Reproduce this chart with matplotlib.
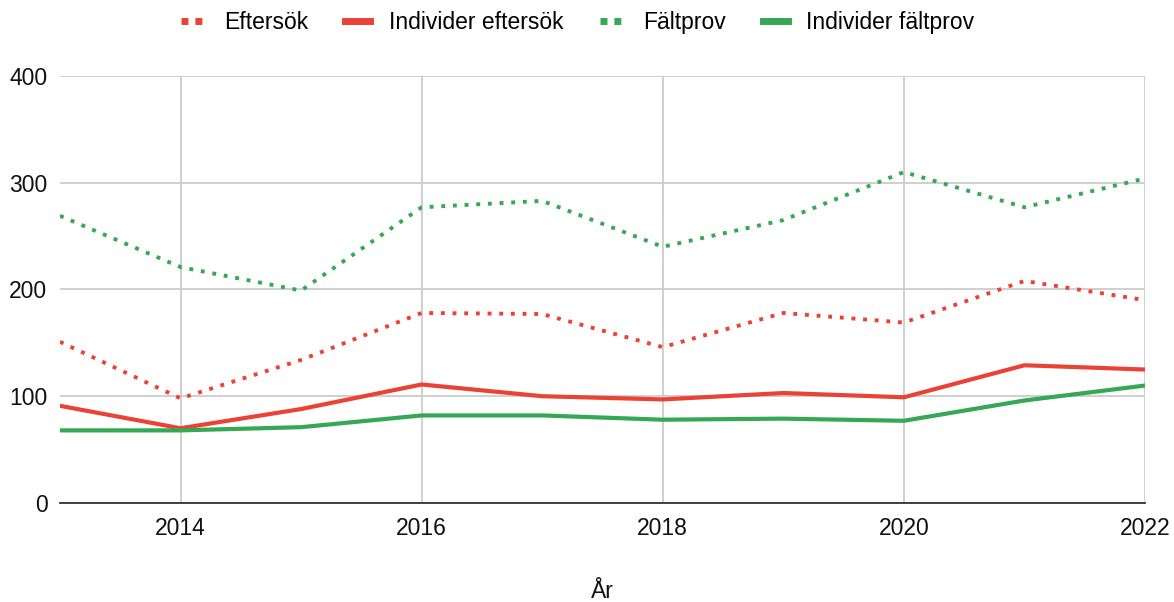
import matplotlib
matplotlib.use("Agg")
from matplotlib import pyplot as plt
from matplotlib.lines import Line2D

plt.rcParams['font.family'] = ['Liberation Sans', 'DejaVu Sans']

years = [2013, 2014, 2015, 2016, 2017, 2018, 2019, 2020, 2021, 2022]
eftersok = [151, 98, 134, 178, 177, 146, 178, 169, 208, 190]
individer_eftersok = [91, 70, 88, 111, 100, 97, 103, 99, 129, 125]
faltprov = [269, 221, 199, 277, 283, 240, 265, 310, 277, 304]
individer_faltprov = [68, 68, 71, 82, 82, 78, 79, 77, 96, 110]

RED = '#EA4335'
GREEN = '#34A853'

fig = plt.figure(figsize=(11.74, 6.02), dpi=100)
ax = fig.add_axes([0.0511, 0.1645, 0.9242, 0.7093])

dot = (0, (1, 2.0))
ax.plot(years, eftersok, color=RED, lw=2.8, linestyle=dot, dash_capstyle='butt', zorder=3)
ax.plot(years, individer_eftersok, color=RED, lw=3, zorder=3)
ax.plot(years, faltprov, color=GREEN, lw=2.8, linestyle=dot, dash_capstyle='butt', zorder=3)
ax.plot(years, individer_faltprov, color=GREEN, lw=3, zorder=3)

ax.set_xlim(2013, 2022)
ax.set_ylim(0, 400)
ax.set_xticks([2014, 2016, 2018, 2020, 2022])
ax.set_yticks([0, 100, 200, 300, 400])
ax.grid(True, color='#cccccc', lw=1.3)
ax.set_axisbelow(True)
for s in ['top', 'right', 'left']:
    ax.spines[s].set_visible(False)
ax.spines['bottom'].set_color('#333333')
ax.spines['bottom'].set_linewidth(1.3)
ax.tick_params(length=0, labelsize=16.5, colors='#111111', pad=10)
ax.tick_params(axis='y', pad=9)
ax.set_xlabel('År', fontsize=16.5, color='#111111', labelpad=29)

handles = [
    Line2D([], [], color=RED, lw=5, linestyle=(0, (1, 1))),
    Line2D([], [], color=RED, lw=5),
    Line2D([], [], color=GREEN, lw=5, linestyle=(0, (1, 1))),
    Line2D([], [], color=GREEN, lw=5),
]
labels = ['Eftersök', 'Individer eftersök', 'Fältprov', 'Individer fältprov']
fig.legend(handles, labels, loc='center', bbox_to_anchor=(0.492, 0.963), ncol=4,
           frameon=False, fontsize=16.5, handlelength=1.1, columnspacing=1.6,
           handletextpad=0.8)

fig.savefig('out.png', dpi=100)
